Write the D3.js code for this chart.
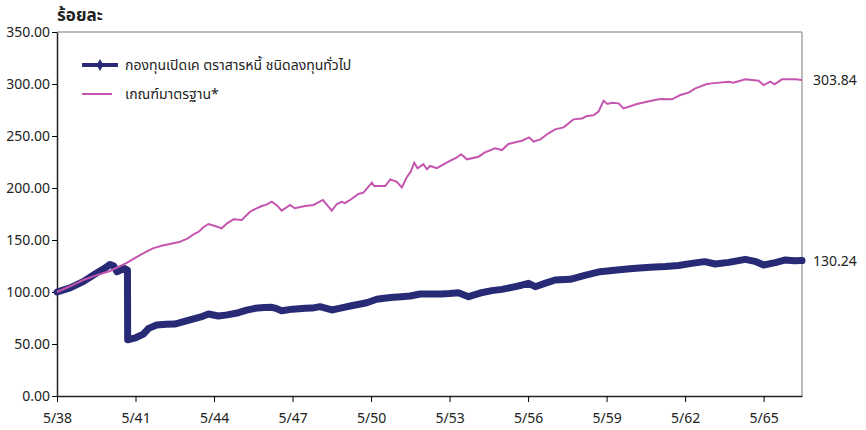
<!DOCTYPE html>
<html>
<head>
<meta charset="utf-8">
<script src="https://cdn.jsdelivr.net/npm/d3@7"></script>
<style>
  body { margin: 0; background: #fff; }
  svg text { font-family: "Noto Sans Thai", "Open Sans", "Noto Sans", sans-serif; fill: #222; }
  .domain { stroke: #222; }
</style>
</head>
<body>
<div id="chart"></div>
<script>
// month offsets counted from 5/38
var xTickMonths = [0, 36, 72, 108, 144, 180, 216, 252, 288, 324];
var xTickLabels = ["5/38", "5/41", "5/44", "5/47", "5/50", "5/53", "5/56", "5/59", "5/62", "5/65"];
var yTicks = [0, 50, 100, 150, 200, 250, 300, 350];

var fundName = "กองทุนเปิดเค ตราสารหนี้ ชนิดลงทุนทั่วไป";
var benchName = "เกณฑ์มาตรฐาน*";

var fundMonths = [0, 6, 12, 18, 22, 24.3, 26, 27.5, 29, 31, 32.3, 32.4, 36, 39.6, 42, 45.7, 50, 54, 56.4,
  61.8, 66, 69.4, 74, 78, 83.2, 87, 90.8, 95, 98.5, 100, 103, 108, 113.8, 117, 120.6, 126, 130, 134.4,
  138, 142, 146.6, 150, 154.3, 158, 161.9, 166.5, 171, 176, 180, 184, 188.7, 194, 199.4, 204, 208.6,
  213, 216.2, 219.3, 224, 228.4, 235.3, 242, 249, 256.7, 264, 272, 279, 285, 291, 297, 301.8, 308,
  315.6, 320, 324, 329.4, 334, 338, 341.6];
var fundValues = [100, 104, 110, 118, 123, 126.5, 125, 119.5, 121, 122.5, 121, 54, 56, 59.5, 65, 68.3, 69, 69.2, 70.5,
  73.7, 76, 78.8, 76.9, 78, 80.1, 82.5, 84.3, 85, 85.3, 84.5, 82, 83.5, 84.3, 84.5, 85.9, 82.7, 84.5, 86.5,
  88, 89.7, 93, 94, 94.9, 95.5, 96.2, 98.1, 98.1, 98, 98.5, 99.3, 95.5, 99, 101.3, 102.5, 104.5,
  106.5, 108.3, 105.1, 108.5, 111.5, 112.2, 116, 119.5, 121.2, 122.5, 123.7, 124.5, 125.5, 127.5, 129.2, 126.9, 128.5,
  131.4, 129.5, 126, 128.2, 130.8, 130, 130.24];

var benchMonths = [0, 6, 12, 18, 24, 27, 32, 36, 41, 44, 48, 56, 60, 63, 65, 67, 69.4, 72.5, 75.5, 78, 80.9,
  84.7, 88.5, 91, 93.9, 96, 98.5, 101, 103, 106.9, 109, 113.8, 117.6, 121.9, 126, 128.3, 130.6, 132, 134.4,
  138.2, 140.5, 144.4, 145.4, 150.5, 152.8, 155.8, 158.1, 160.4, 162.2, 163.8, 165.3, 168, 169.6, 171.1,
  174.2, 179.5, 183.4, 185.3, 188, 193.3, 196, 200.9, 204, 207, 213.1, 216.5, 218.5, 221.6, 225.4, 228.4,
  232.3, 236.8, 240.7, 243, 246, 248.3, 250.6, 252.4, 254.4, 257.5, 259.8, 265.9, 272, 276.6, 282, 285.8,
  289.6, 292.7, 298, 300.3, 308, 310.2, 315.6, 321.7, 324, 327.1, 329, 332.4, 338.5, 341.6];
var benchValues = [100, 105.5, 111.5, 116, 120, 123, 128, 133, 138.8, 142, 144.5, 148, 151.6, 156, 158, 162, 165.4, 163.5, 161.2, 166, 169.9,
  169.2, 177.2, 180, 182.7, 184, 186.9, 183, 178.2, 183.7, 180.5, 182.7, 183.7, 188.5, 178.2, 184.6, 186.8, 185.5, 188.5,
  194.2, 195.5, 205.1, 201.9, 201.9, 208.3, 206, 200.6, 210.3, 215.7, 224.3, 218.9, 223, 218, 221.2,
  219, 225.3, 229.5, 232.4, 227.6, 230.1, 234, 238.2, 236.5, 242.3, 245.5, 248.7, 244.5, 246.8, 252.6, 256.4,
  258.3, 266, 266.9, 269.2, 270, 273.4, 283.9, 280.8, 282, 281.4, 276.6, 280.8, 283.7, 285.6, 285.3, 289.4,
  291.7, 295.8, 300, 300.6, 302.2, 301.3, 304.5, 303.2, 299, 302.2, 299.7, 304.5, 304.5, 303.84];

var fundColor = "#272a74";
var benchColor = "#c556b0";

var svgWidth = 866;
var svgHeight = 430;
var margin = { top: 32, right: 64, bottom: 34, left: 57 };
var width = svgWidth - margin.left - margin.right;
var height = svgHeight - margin.top - margin.bottom;

var svg = d3.select("#chart")
  .append("svg")
  .attr("width", svgWidth)
  .attr("height", svgHeight);

var chartGroup = svg.append("g")
  .attr("transform", `translate(${margin.left}, ${margin.top})`);

var xScale = d3.scaleLinear()
  .domain([0, 341.6])
  .range([0, width]);

var yScale = d3.scaleLinear()
  .domain([0, 350])
  .range([height, 0]);

// grey frame on top and right
chartGroup.append("line")
  .attr("x1", 0).attr("x2", width).attr("y1", 0).attr("y2", 0)
  .attr("stroke", "#a6a6a6").attr("stroke-width", 1.5);
chartGroup.append("line")
  .attr("x1", width).attr("x2", width).attr("y1", 0).attr("y2", height)
  .attr("stroke", "#a6a6a6").attr("stroke-width", 1.5);

// axes
var bottomAxis = d3.axisBottom(xScale)
  .tickValues(xTickMonths)
  .tickFormat((d, i) => xTickLabels[i])
  .tickSize(6)
  .tickSizeOuter(0)
  .tickPadding(11);

var leftAxis = d3.axisLeft(yScale)
  .tickValues(yTicks)
  .tickFormat(d3.format(".2f"))
  .tickSize(5)
  .tickSizeOuter(0)
  .tickPadding(2);

var xAxisG = chartGroup.append("g")
  .attr("transform", `translate(0, ${height})`)
  .call(bottomAxis);
xAxisG.selectAll("text").style("font-size", "14px").attr("fill", "#222");
xAxisG.select(".domain").attr("stroke-width", 1.5);

var yAxisG = chartGroup.append("g")
  .call(leftAxis);
yAxisG.selectAll("text").style("font-size", "14px").attr("fill", "#222");
yAxisG.select(".domain").attr("stroke-width", 1.5);

// y axis title
svg.append("text")
  .attr("x", 57)
  .attr("y", 21)
  .style("font-size", "17px")
  .style("font-weight", "bold")
  .text("ร้อยละ");

// lines
var benchData = benchMonths.map((m, i) => ({ m: m, v: benchValues[i] }));
var fundData = fundMonths.map((m, i) => ({ m: m, v: fundValues[i] }));

var line = d3.line()
  .x(d => xScale(d.m))
  .y(d => yScale(d.v));

chartGroup.append("path")
  .datum(fundData)
  .attr("d", line)
  .attr("fill", "none")
  .attr("stroke", fundColor)
  .attr("stroke-width", 7)
  .attr("stroke-linejoin", "round")
  .attr("stroke-linecap", "round");

chartGroup.append("path")
  .datum(benchData)
  .attr("d", line)
  .attr("fill", "none")
  .attr("stroke", benchColor)
  .attr("stroke-width", 2);

// end value labels
chartGroup.append("text")
  .attr("x", width + 11)
  .attr("y", yScale(benchValues[benchValues.length - 1]) + 5)
  .style("font-size", "14px")
  .text(d3.format(".2f")(benchValues[benchValues.length - 1]));

chartGroup.append("text")
  .attr("x", width + 11)
  .attr("y", yScale(fundValues[fundValues.length - 1]) + 5)
  .style("font-size", "14px")
  .text(d3.format(".2f")(fundValues[fundValues.length - 1]));

// legend
var legend = svg.append("g");
legend.append("line")
  .attr("x1", 82).attr("x2", 118).attr("y1", 65).attr("y2", 65)
  .attr("stroke", fundColor).attr("stroke-width", 4);
legend.append("path")
  .attr("d", d3.symbol().type(d3.symbolDiamond).size(40)())
  .attr("transform", "translate(100,65)")
  .attr("fill", fundColor);
legend.append("text")
  .attr("x", 125).attr("y", 70)
  .style("font-size", "14px")
  .text(fundName);

legend.append("line")
  .attr("x1", 82).attr("x2", 112).attr("y1", 94).attr("y2", 94)
  .attr("stroke", benchColor).attr("stroke-width", 2);
legend.append("text")
  .attr("x", 125).attr("y", 99)
  .style("font-size", "14px")
  .text(benchName);
</script>
</body>
</html>
